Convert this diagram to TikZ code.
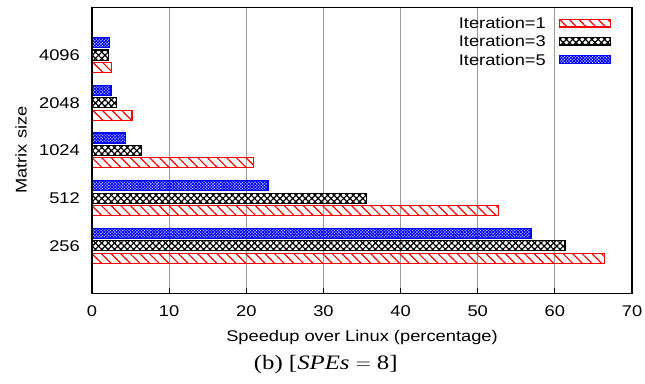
\documentclass[tikz,border=0pt]{standalone}
\usepackage{fontspec}
\setmainfont[FakeStretch=1.18]{Liberation Sans}
\newfontfamily\capfont[FakeStretch=1.21]{Liberation Serif}
\usetikzlibrary{patterns.meta}

\tikzset{
  redbar/.style={draw=red, line width=1.3pt, pattern={Lines[angle=-45,distance=6.8pt,line width=1.2pt]}, pattern color=red},
  blackbar/.style={draw=black, line width=1.3pt, pattern={Hatch[angle=45,distance=4.5pt,line width=1.2pt]}, pattern color=black},
  bluebar/.style={draw=blue, line width=1.3pt, pattern={Hatch[angle=45,distance=2.2pt,line width=1.1pt]}, pattern color=blue},
  gridline/.style={gray!80, line width=0.8pt},
  lbl/.style={font=\fontsize{15.5}{18}\selectfont, inner sep=0pt},
}

\begin{document}
\begin{tikzpicture}[x=7.7143pt, y=47.67pt]
      \useasboundingbox (-11.926,-1.8775) rectangle (71.685,6.157);
      % grid
      \draw[gridline] (10,0) -- (10,6);
      \draw[gridline] (20,0) -- (20,6);
      \draw[gridline] (30,0) -- (30,6);
      \draw[gridline] (40,0) -- (40,6);
      \draw[gridline] (50,0) -- (50,6);
      \draw[gridline] (60,0) -- (60,6);
      % bars: 4096
      \draw[bluebar] (0,5.154) rectangle (2.24,5.364);
      \draw[blackbar] (0,4.895) rectangle (2.16,5.105);
      \draw[redbar] (0,4.636) rectangle (2.5,4.846);
      % 2048
      \draw[bluebar] (0,4.154) rectangle (2.46,4.364);
      \draw[blackbar] (0,3.895) rectangle (3.2,4.105);
      \draw[redbar] (0,3.636) rectangle (5.2,3.846);
      % 1024
      \draw[bluebar] (0,3.154) rectangle (4.3,3.364);
      \draw[blackbar] (0,2.895) rectangle (6.4,3.105);
      \draw[redbar] (0,2.636) rectangle (20.9,2.846);
      % 512
      \draw[bluebar] (0,2.154) rectangle (22.8,2.364);
      \draw[blackbar] (0,1.895) rectangle (35.6,2.105);
      \draw[redbar] (0,1.636) rectangle (52.7,1.846);
      % 256
      \draw[bluebar] (0,1.154) rectangle (56.9,1.364);
      \draw[blackbar] (0,0.895) rectangle (61.3,1.105);
      \draw[redbar] (0,0.636) rectangle (66.4,0.846);
      % frame and ticks
      \draw[line width=1.3pt] (0,0) rectangle (70,6);
      \draw[line width=0.8pt] (10,0) -- (10,0.105);
      \draw[line width=0.8pt] (20,0) -- (20,0.105);
      \draw[line width=0.8pt] (30,0) -- (30,0.105);
      \draw[line width=0.8pt] (40,0) -- (40,0.105);
      \draw[line width=0.8pt] (50,0) -- (50,0.105);
      \draw[line width=0.8pt] (60,0) -- (60,0.105);
      % x tick labels
      \node[lbl] at (0,-0.367) (x0) {0};
      \node[lbl] at (10,-0.367) (x10) {10};
      \node[lbl] at (20,-0.367) (x20) {20};
      \node[lbl] at (30,-0.367) (x30) {30};
      \node[lbl] at (40,-0.367) (x40) {40};
      \node[lbl] at (50,-0.367) (x50) {50};
      \node[lbl] at (60,-0.367) (x60) {60};
      \node[lbl] at (70,-0.367) (x70) {70};
      % y tick labels
      \node[lbl, anchor=east] at (-1.556,1) (y256) {256};
      \node[lbl, anchor=east] at (-1.556,2) (y512) {512};
      \node[lbl, anchor=east] at (-1.556,3) (y1024) {1024};
      \node[lbl, anchor=east] at (-1.556,4) (y2048) {2048};
      \node[lbl, anchor=east] at (-1.556,5) (y4096) {4096};
      % axis titles
      \node[lbl] at (35,-0.933) (xtitle) {Speedup over Linux (percentage)};
      \node[lbl, rotate=90] at (-9.2,3.01) (ytitle) {Matrix size};
      \node[inner sep=0pt, font=\capfont\fontsize{20.5}{22}\selectfont] at (30.3,-1.5) (caption) {(b) [\textit{SPEs} $=$ 8]};
      % legend
      \node[lbl, anchor=east] at (58.85,5.674) (it1) {Iteration=1};
      \node[lbl, anchor=east] at (58.85,5.297) (it3) {Iteration=3};
      \node[lbl, anchor=east] at (58.85,4.909) (it5) {Iteration=5};
      \draw[redbar] (60.6,5.59) rectangle (67.2,5.745);
      \draw[blackbar] (60.6,5.21) rectangle (67.2,5.375);
      \draw[bluebar] (60.6,4.82) rectangle (67.2,4.99);
    \end{tikzpicture}
\end{document}
